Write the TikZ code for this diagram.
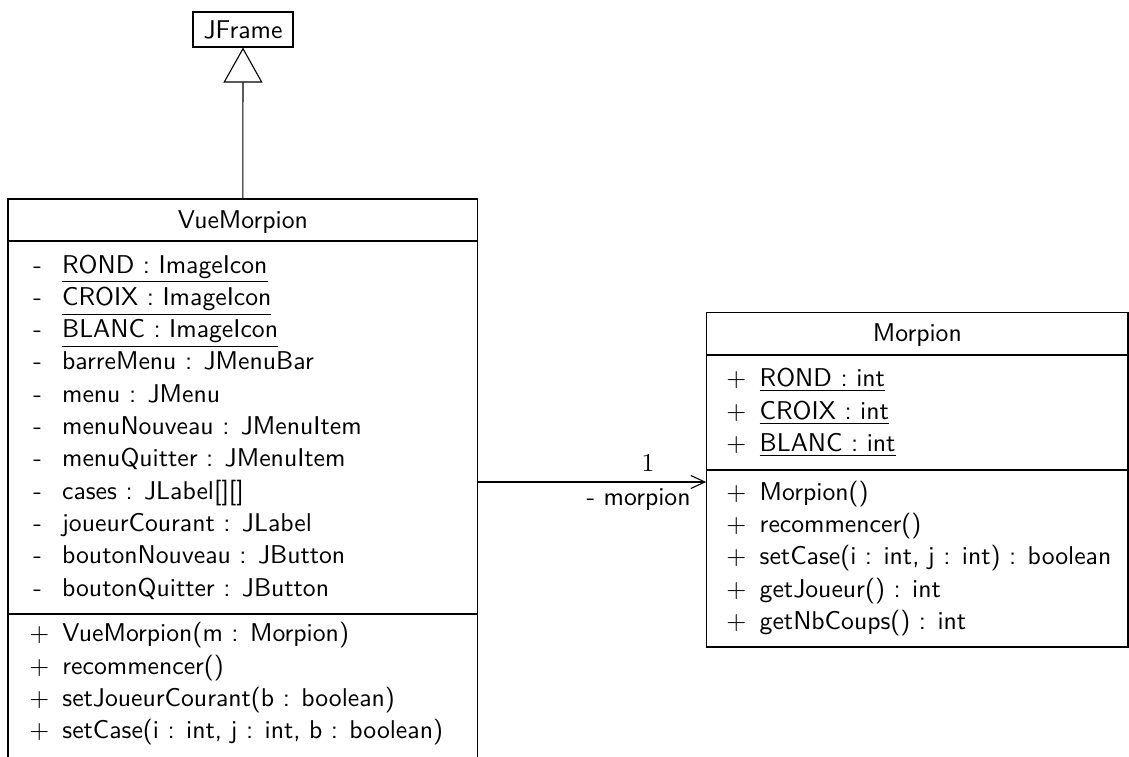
\documentclass[tikz,border=0pt]{standalone}
\usetikzlibrary{arrows.meta}
\begin{document}
\begin{tikzpicture}[x=1pt,y=-1pt,line width=1.1pt,
  txt/.style={font=\sffamily, scale=2.57, inner sep=0pt, anchor=base west},
  ctitle/.style={font=\sffamily, scale=2.57, inner sep=0pt, anchor=base},
  umlbox/.style={draw, rectangle, inner sep=0pt}]
\useasboundingbox (0,0) rectangle (1129,756);
% classes
\node[umlbox, minimum width=100, minimum height=35] (jframe) at (243,29.5) {};
\node[ctitle] (jframet) at (243,38.5) {JFrame};
\node[umlbox, minimum width=469.7, minimum height=566] (vue) at (242.85,482) {};
\node[umlbox, minimum width=421.3, minimum height=334.3] (morpion) at (917.35,479.85) {};
% separators
\draw (vue.west |- 0,241) -- (vue.east |- 0,241);
\draw (vue.west |- 0,614) -- (vue.east |- 0,614);
\draw (morpion.west |- 0,355) -- (morpion.east |- 0,355);
\draw (morpion.west |- 0,470) -- (morpion.east |- 0,470);
% VueMorpion
\node[ctitle] (vt) at (242.85,228.3) {VueMorpion};
\foreach \i/\t in {0/{\underline{ROND : ImageIcon}},1/{\underline{CROIX : ImageIcon}},2/{\underline{BLANC : ImageIcon}},3/{barreMenu : JMenuBar},4/{menu : JMenu},5/{menuNouveau : JMenuItem},6/{menuQuitter : JMenuItem},7/{cases : JLabel[][]},8/{joueurCourant : JLabel},9/{boutonNouveau : JButton},10/{boutonQuitter : JButton}}{
  \node[txt] (va\i m) at (32,273+32.3*\i) {-};
  \node[txt] (va\i) at (60.7,273+32.3*\i) {\t};
}
\foreach \i/\t in {0/{VueMorpion(m : Morpion)},1/{recommencer()},2/{setJoueurCourant(b : boolean)},3/{setCase(i : int, j : int, b : boolean)}}{
  \node[txt] (vo\i m) at (28,641.7+32.3*\i) {$+$};
  \node[txt] (vo\i) at (61,641.7+32.3*\i) {\t};
}
% Morpion
\node[ctitle] (mt) at (917.35,341) {Morpion};
\foreach \i/\t in {0/{\underline{ROND : int}},1/{\underline{CROIX : int}},2/{\underline{BLANC : int}}}{
  \node[txt] (ma\i m) at (725,386.7+32.3*\i) {$+$};
  \node[txt] (ma\i) at (758.3,386.7+32.3*\i) {\t};
}
\foreach \i/\t in {0/{Morpion()},1/{recommencer()},2/{setCase(i : int, j : int) : boolean},3/{getJoueur() : int},4/{getNbCoups() : int}}{
  \node[txt] (mo\i m) at (725,500.7+32.1*\i) {$+$};
  \node[txt] (mo\i) at (758.3,500.7+32.1*\i) {\t};
}
% connectors
\draw[-{Triangle[open,length=35,width=39]}] (vue.north) -- (jframe.south);
\coordinate (aend) at (vue.east -| morpion.west);
\draw[-{Straight Barb[length=14,width=13]}] (vue.east) -- (aend);
\node[ctitle, font=\rmfamily] (mult) at (648,471) {1};
\node[txt, anchor=base east] (role) at (692,505) {- morpion};
\end{tikzpicture}
\end{document}
